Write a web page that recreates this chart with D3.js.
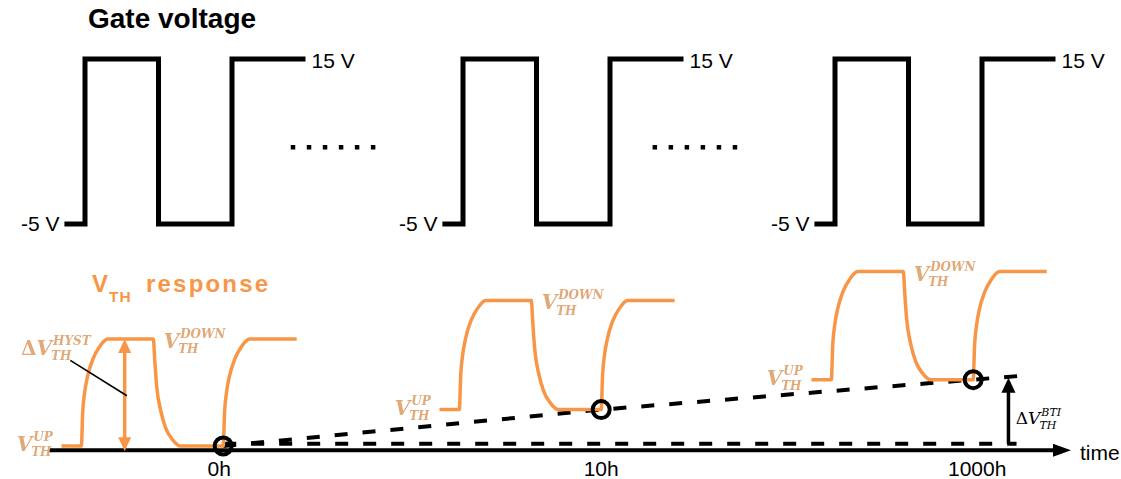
<!DOCTYPE html>
<html><head><meta charset="utf-8">
<script src="https://cdn.jsdelivr.net/npm/d3@7"></script>
<style>html,body{margin:0;padding:0;background:#fff;} svg{display:block;}</style>
</head><body>
<svg id="c" width="1121" height="479"></svg>
<script>
// ---------------- data ----------------
const cycleLabels = ["0h", "10h", "1000h"];
const gateLevels = [-5, 15];                                  // V
const gatePhase = [-0.28, 0, 0, 1, 1, 2, 2, 3];               // half-periods
const gateValue = [-5, -5, 15, 15, -5, -5, 15, 15];           // V
const vthShift = [0, 0.34, 0.62];                             // ΔV_TH^BTI (a.u.)
const vthHyst = [1.0, 1.02, 1.01];                            // ΔV_TH^HYST (a.u.)
const respPhase = [-0.32, -0.05, 0.93, 1.88, 2.88];           // start, rise, fall, rise, end
const riseShapeT = [0, 0.02, 0.045, 0.088, 0.156, 0.25, 0.36];
const riseShapeV = [0, 0.33, 0.5, 0.66, 0.81, 0.93, 1];
const fallShapeT = [0, 0.018, 0.045, 0.1, 0.167, 0.26, 0.37];
const fallShapeV = [1, 0.81, 0.56, 0.33, 0.17, 0.06, 0];
const ellipsisPhase = [2.83, 2.61];
const ellipsisDots = [0, 1, 2, 3, 4, 5];

// ---------------- scales ----------------
const svg = d3.select("#c");
const cx = d3.scaleLinear().domain([0, 1, 2]).range([85, 463, 835]);
const u = d3.scaleLinear().domain([0, 1]).range([0, 73.5]);
const X = (i, p) => cx(i) + u(p);
const yG = d3.scaleLinear().domain(gateLevels).range([224, 59]);
const yR = d3.scaleLinear().domain([0, 1]).range([446, 339]);

const ORANGE = "#F79646";
const LABEL = "#E2A978";
const SANS = "'Liberation Sans', Arial, sans-serif";
const SERIF = "'DejaVu Serif', serif";

const defs = svg.append("defs");
defs.append("filter").attr("id", "soft").append("feGaussianBlur").attr("stdDeviation", 0.45);

// ---------------- titles ----------------
svg.append("text").attr("x", 88).attr("y", 28).attr("font-family", SANS)
  .attr("font-weight", "bold").attr("font-size", 28).attr("fill", "#000").text("Gate voltage");

const vt = svg.append("g").attr("fill", ORANGE).attr("font-family", SANS).attr("font-weight", "bold");
vt.append("text").attr("x", 92).attr("y", 292).attr("font-size", 24).text("V");
vt.append("text").attr("x", 109).attr("y", 302).attr("font-size", 15.5).attr("letter-spacing", 1).text("TH");
vt.append("text").attr("x", 146).attr("y", 292).attr("font-size", 24).attr("letter-spacing", 2.2).text("response");

// ---------------- gate waveforms ----------------
const gateLine = d3.line().x(d => d[0]).y(d => d[1]);
cycleLabels.forEach((c, i) => {
  const pts = gatePhase.map((p, k) => [X(i, p), yG(gateValue[k])]);
  svg.append("path").attr("d", gateLine(pts)).attr("fill", "none").attr("stroke", "#000")
    .attr("stroke-width", 5).attr("stroke-linejoin", "miter");
  svg.append("text").attr("x", X(i, gatePhase[gatePhase.length - 1]) + 6).attr("y", yG(15) + 9)
    .attr("font-family", SANS).attr("font-size", 21).text("15 V");
  svg.append("text").attr("x", X(i, gatePhase[0]) - 5).attr("y", yG(-5) + 7)
    .attr("text-anchor", "end").attr("font-family", SANS).attr("font-size", 21).text("-5 V");
});
ellipsisPhase.forEach((p, i) => {
  svg.selectAll(null).data(ellipsisDots).enter().append("rect")
    .attr("x", k => X(i, p + k * 0.218) - 2.25).attr("y", yG(4.3) - 2.25)
    .attr("width", 4.5).attr("height", 4.5).attr("fill", "#000");
});

// ---------------- time axis ----------------
const axY = yR(-0.04);
svg.append("line").attr("x1", 48).attr("x2", 1056).attr("y1", axY).attr("y2", axY)
  .attr("stroke", "#000").attr("stroke-width", 4);
svg.append("path").attr("d", `M1071,${axY} L1053,${axY - 6.5} L1053,${axY + 6.5} Z`).attr("fill", "#000");
svg.append("text").attr("x", 1080).attr("y", 460).attr("font-family", SANS).attr("font-size", 21).text("time");
svg.selectAll(null).data(cycleLabels).enter().append("text")
  .attr("x", (d, i) => X(i, respPhase[3]) + (i === 0 ? -4 : i === 1 ? 0 : 4)).attr("y", 476).attr("text-anchor", "middle")
  .attr("font-family", SANS).attr("font-size", 21).text(d => d);

// ---------------- dashed reference lines ----------------
const circ = cycleLabels.map((c, i) => [X(i, respPhase[3]), yR(vthShift[i])]);
const slope = (circ[2][1] - circ[1][1]) / (circ[2][0] - circ[1][0]);
const endX = X(2, 2.5);
const trendPts = circ.concat([[endX, circ[2][1] + slope * (endX - circ[2][0])]]);
svg.append("path").attr("d", d3.line()(trendPts)).attr("fill", "none").attr("stroke", "#000")
  .attr("stroke-width", 4).attr("stroke-dasharray", "13,15");
svg.append("line").attr("x1", circ[0][0]).attr("x2", X(2, 2.47)).attr("y1", yR(0.02)).attr("y2", yR(0.02))
  .attr("stroke", "#000").attr("stroke-width", 4).attr("stroke-dasharray", "13,15");

// ---------------- V_TH responses ----------------
const respLine = d3.line().x(d => d[0]).y(d => d[1]).curve(d3.curveMonotoneX);
cycleLabels.forEach((c, i) => {
  const b = vthShift[i], h = vthHyst[i], t = b + h;
  const pts = [];
  pts.push([X(i, respPhase[0]), yR(b)]);
  riseShapeT.forEach((dt, k) => pts.push([X(i, respPhase[1] + dt), yR(b + h * riseShapeV[k])]));
  fallShapeT.forEach((dt, k) => pts.push([X(i, respPhase[2] + dt), yR(b + h * fallShapeV[k])]));
  riseShapeT.forEach((dt, k) => pts.push([X(i, respPhase[3] + dt), yR(b + h * riseShapeV[k])]));
  pts.push([X(i, respPhase[4]), yR(t)]);
  svg.append("path").attr("d", respLine(pts)).attr("fill", "none").attr("stroke", ORANGE)
    .attr("stroke-width", 3.5);
});

// circles
svg.selectAll(null).data(circ).enter().append("circle")
  .attr("cx", d => d[0]).attr("cy", d => d[1]).attr("r", 8.5)
  .attr("fill", "none").attr("stroke", "#000").attr("stroke-width", 4);

// hysteresis double arrow
const hx = X(0, 0.54), hTop = yR(vthHyst[0]), hBot = yR(-0.05);
svg.append("line").attr("x1", hx).attr("x2", hx).attr("y1", hTop + 10).attr("y2", hBot - 10)
  .attr("stroke", ORANGE).attr("stroke-width", 3.5);
svg.append("path").attr("d", `M${hx},${hTop} L${hx - 6.5},${hTop + 14} L${hx + 6.5},${hTop + 14} Z`).attr("fill", ORANGE);
svg.append("path").attr("d", `M${hx},${hBot} L${hx - 6.5},${hBot - 14} L${hx + 6.5},${hBot - 14} Z`).attr("fill", ORANGE);
// leader line
svg.append("line").attr("x1", X(0, -0.2)).attr("y1", yR(0.8)).attr("x2", X(0, 0.57)).attr("y2", yR(0.47))
  .attr("stroke", "#000").attr("stroke-width", 1.6);

// BTI arrow
const bx = X(2, 2.36);
const bTip = circ[2][1] + slope * (bx - circ[2][0]) + 1;
svg.append("line").attr("x1", bx).attr("x2", bx).attr("y1", yR(0.02)).attr("y2", bTip + 10)
  .attr("stroke", "#000").attr("stroke-width", 3.5);
svg.append("path").attr("d", `M${bx},${bTip} L${bx - 7},${bTip + 15} L${bx + 7},${bTip + 15} Z`).attr("fill", "#000");

// ---------------- math labels ----------------
function vthLabel(x, y, sup, opt) {
  const g = svg.append("g").attr("fill", opt.color).attr("font-family", SERIF)
    .attr("font-style", "italic").attr("font-weight", opt.bold ? "bold" : "normal");
  if (opt.blur) g.attr("filter", "url(#soft)");
  const main = g.append("text").attr("x", x).attr("y", y).attr("font-size", opt.size);
  if (opt.delta) main.append("tspan").attr("font-style", "normal").text("Δ");
  main.append("tspan").text("V");
  const w = main.node().getComputedTextLength();
  g.append("text").attr("x", x + w + 1).attr("y", y - opt.size * 0.5).attr("font-size", opt.small).text(sup);
  g.append("text").attr("x", x + w - opt.size * 0.05).attr("y", y + opt.size * 0.27).attr("font-size", opt.small).text("TH");
}
const orangeOpt = { color: LABEL, size: 20, small: 12, bold: true, blur: true };
cycleLabels.forEach((c, i) => {
  vthLabel(X(i, -0.93), yR(vthShift[i]) + 5, "UP", orangeOpt);
  vthLabel(X(i, 1.07), yR(vthShift[i] + vthHyst[i]) + 9, "DOWN", orangeOpt);
});
vthLabel(X(0, -0.87), yR(0.85), "HYST", Object.assign({}, orangeOpt, { delta: true }));
vthLabel(X(2, 2.46), 424, "BTI", { color: "#000", size: 17, small: 11, bold: false, delta: true });
</script>
</body></html>
